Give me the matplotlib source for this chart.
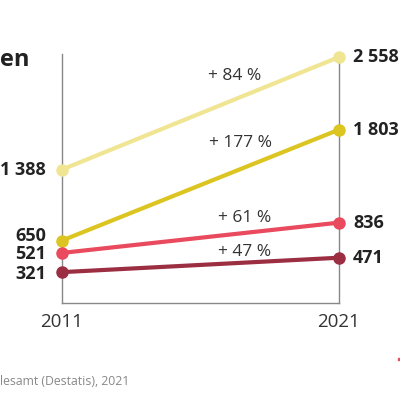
import matplotlib.pyplot as plt

years = [2011, 2021]
start_values = [1388, 650, 521, 321]
end_values = [2558, 1803, 836, 471]
start_labels = ["1 388", "650", "521", "321"]
end_labels = ["2 558", "1 803", "836", "471"]
change_labels = ["+ 84 %", "+ 177 %", "+ 61 %", "+ 47 %"]
colors = ["#f0e592", "#dcc520", "#e94a5e", "#9c2e42"]

# where the change labels sit: fraction along the line, lift in points
label_pos = [0.625, 0.645, 0.66, 0.66]
label_lift = [16.5, 18.5, 11, 7.5]
start_nudge = [0, 3, -1, -1]

plt.rcParams["font.family"] = ["Open Sans", "DejaVu Sans"]

fig = plt.figure(figsize=(4, 4), dpi=100)
ax = fig.add_axes([0.155, 0.2425, 0.6925, 0.6225])

for i, (s, e, c) in enumerate(zip(start_values, end_values, colors)):
    ax.plot(years, [s, e], color=c, lw=3, marker="o", ms=8,
            solid_capstyle="round", clip_on=False, zorder=3)
    ax.annotate(start_labels[i], (years[0], s), xytext=(-11.5, start_nudge[i]),
                textcoords="offset points", ha="right", va="center",
                fontsize=13, fontweight="bold", color="#222222")
    ax.annotate(end_labels[i], (years[1], e), xytext=(10, 0),
                textcoords="offset points", ha="left", va="center",
                fontsize=13, fontweight="bold", color="#222222")
    f = label_pos[i]
    x = years[0] + f * (years[1] - years[0])
    y = s + f * (e - s)
    ax.annotate(change_labels[i], (x, y), xytext=(0, label_lift[i]),
                textcoords="offset points", ha="center", va="center",
                fontsize=12.5, color="#333333")

ax.set_xlim(2011, 2021)
ax.set_ylim(0, 2590)
ax.set_xticks(years)
ax.set_xticklabels([str(y) for y in years], fontsize=13.5, color="#333333")
ax.set_yticks([])
ax.tick_params(axis="x", length=0, pad=7)
ax.spines["top"].set_visible(False)
for side in ["left", "right", "bottom"]:
    ax.spines[side].set_color("#888888")
    ax.spines[side].set_linewidth(1)

fig.text(0.0, 0.85, "en", fontsize=17, fontweight="bold", color="#222222",
         ha="left", va="center")
fig.text(0.0, 0.047, "lesamt (Destatis), 2021", fontsize=8.8, color="#888888",
         ha="left", va="center")
fig.patches.append(plt.Rectangle((0.994, 0.1), 0.006, 0.006,
                                 transform=fig.transFigure,
                                 color="#e94a5e"))

fig.savefig("out.png", dpi=100)
